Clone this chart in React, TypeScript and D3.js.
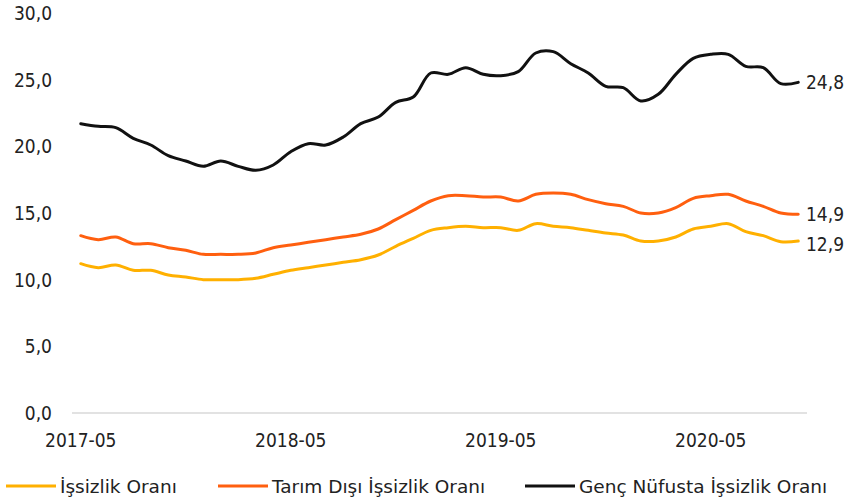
import React from "react"
import * as d3 from "d3"

const months = [
  "2017-05","2017-06","2017-07","2017-08","2017-09","2017-10","2017-11","2017-12",
  "2018-01","2018-02","2018-03","2018-04","2018-05","2018-06","2018-07","2018-08",
  "2018-09","2018-10","2018-11","2018-12","2019-01","2019-02","2019-03","2019-04",
  "2019-05","2019-06","2019-07","2019-08","2019-09","2019-10","2019-11","2019-12",
  "2020-01","2020-02","2020-03","2020-04","2020-05","2020-06","2020-07","2020-08",
  "2020-09","2020-10",
]

const tickMonths = ["2017-05", "2018-05", "2019-05", "2020-05"]
const yTicks = [0, 5, 10, 15, 20, 25, 30]

const issizlik = [11.2,10.9,11.1,10.7,10.7,10.35,10.2,10.0,10.0,10.0,10.1,10.4,10.7,10.9,11.1,11.3,11.5,11.85,12.5,13.1,13.7,13.9,14.0,13.9,13.9,13.7,14.2,14.0,13.9,13.7,13.5,13.35,12.9,12.9,13.2,13.8,14.0,14.2,13.6,13.3,12.85,12.9]
const tarimDisi = [13.3,13.0,13.2,12.7,12.7,12.4,12.2,11.9,11.9,11.9,12.0,12.4,12.6,12.8,13.0,13.2,13.4,13.8,14.5,15.2,15.9,16.3,16.3,16.2,16.2,15.9,16.4,16.5,16.4,16.0,15.7,15.5,15.0,15.0,15.4,16.1,16.3,16.4,15.9,15.5,15.0,14.9]
const gencNufus = [21.7,21.5,21.4,20.6,20.1,19.3,18.9,18.5,18.9,18.5,18.2,18.6,19.6,20.2,20.1,20.7,21.7,22.2,23.3,23.7,25.5,25.4,25.9,25.4,25.3,25.6,27.0,27.1,26.2,25.5,24.5,24.4,23.4,23.9,25.4,26.6,26.9,26.9,26.0,25.9,24.7,24.8]

const seriesNames = ["İşsizlik Oranı", "Tarım Dışı İşsizlik Oranı", "Genç Nüfusta İşsizlik Oranı"]
const seriesColors = ["#FFB000", "#FF5F0F", "#111111"]
const seriesValues = [issizlik, tarimDisi, gencNufus]

const trLocale = d3.formatLocale({decimal: ",", thousands: ".", grouping: [3], currency: ["", " ₺"]})
const fmt = trLocale.format(".1f")

const FONT = "'DejaVu Sans Condensed', 'DejaVu Sans', sans-serif"

export default function App() {
  const width = 848
  const height = 504

  const x = d3.scaleBand<string>().domain(months).range([72, 807])
  const y = d3.scaleLinear().domain([0, 30]).range([413, 13])
  const cx = (m: string) => (x(m) ?? 0) + x.bandwidth() / 2

  const line = d3.line<number>()
    .x((_, i) => cx(months[i]))
    .y(d => y(d))
    .curve(d3.curveCatmullRom.alpha(0.5))

  // legend positions (sample line start)
  const legendX = [6, 218, 525]

  return (
    <svg width={width} height={height} style={{position: "absolute", left: 0, top: 0, background: "#fff"}}
      fontFamily={FONT} fontSize={19} fill="#222">
      {/* y axis labels */}
      {yTicks.map(t => (
        <text key={t} x={52} y={y(t)} textAnchor="end" dominantBaseline="central">{fmt(t)}</text>
      ))}
      {/* zero line */}
      <line x1={72} x2={807} y1={y(0)} y2={y(0)} stroke="#d9d9d9" strokeWidth={1.5} />
      {/* x labels */}
      {tickMonths.map(m => (
        <text key={m} x={cx(m)} y={440} textAnchor="middle" dominantBaseline="central">{m}</text>
      ))}
      {/* series */}
      {seriesValues.map((vals, k) => (
        <path key={k} d={line(vals) ?? ""} fill="none" stroke={seriesColors[k]} strokeWidth={3}
          strokeLinejoin="round" strokeLinecap="round" />
      ))}
      {/* end labels */}
      {seriesValues.map((vals, k) => (
        <text key={k} x={806} y={y(vals[vals.length - 1]) + (k === 0 ? 3 : 0)} dominantBaseline="central">
          {fmt(vals[vals.length - 1])}
        </text>
      ))}
      {/* legend */}
      {seriesNames.map((name, k) => (
        <g key={name} transform={`translate(${legendX[k]},486)`}>
          <line x1={0} x2={50} y1={0} y2={0} stroke={seriesColors[k]} strokeWidth={3} />
          <text x={54} y={0} dominantBaseline="central" fontFamily="'DejaVu Sans', sans-serif" fontSize={18.5}>{name}</text>
        </g>
      ))}
    </svg>
  )
}
